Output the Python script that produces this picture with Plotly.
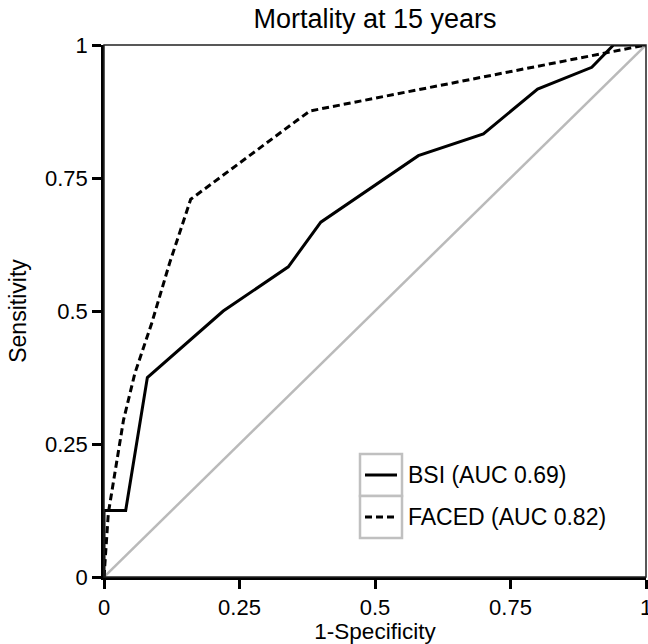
import plotly.graph_objects as go

# ---- data ----
bsi_fpr = [0, 0, 0.04, 0.08, 0.22, 0.34, 0.40, 0.58, 0.70, 0.80, 0.90, 0.94, 1.0]
bsi_tpr = [0, 0.125, 0.125, 0.375, 0.50, 0.583, 0.667, 0.792, 0.833, 0.917, 0.958, 1.0, 1.0]

faced_fpr = [0, 0.003, 0.008, 0.02, 0.036, 0.057, 0.088, 0.121, 0.16, 0.357, 0.38, 1.0]
faced_tpr = [0, 0.044, 0.12, 0.195, 0.295, 0.383, 0.477, 0.59, 0.71, 0.859, 0.876, 1.0]

ref_x = [0, 1]
ref_y = [0, 1]

tick_vals = [0, 0.25, 0.5, 0.75, 1]
tick_text = ["0", "0.25", "0.5", "0.75", "1"]

series_names = ["BSI (AUC 0.69)", "FACED (AUC 0.82)"]
title_text = "Mortality at 15 years"
x_title = "1-Specificity"
y_title = "Sensitivity"

# ---- layout geometry ----
W, H = 648, 644
ML, MR, MT, MB = 104, 2, 45, 67
PW = W - ML - MR
PH = H - MT - MB
FONT = "Liberation Sans, Arial, Helvetica, sans-serif"


def px2paper_x(px):
    return (px - ML) / PW


def px2paper_y(py):
    return (H - MB - py) / PH


fig = go.Figure()
fig.add_trace(go.Scatter(x=ref_x, y=ref_y, mode="lines",
                         line=dict(color="#bababa", width=2.5),
                         showlegend=False, hoverinfo="skip", cliponaxis=False))
fig.add_trace(go.Scatter(x=faced_fpr, y=faced_tpr, mode="lines", name=series_names[1],
                         line=dict(color="black", width=3, dash="7px,4px"),
                         showlegend=False, cliponaxis=False))
fig.add_trace(go.Scatter(x=bsi_fpr, y=bsi_tpr, mode="lines", name=series_names[0],
                         line=dict(color="black", width=3),
                         showlegend=False, cliponaxis=False))

shapes = []
# frame (top/right thin)
shapes.append(dict(type="rect", xref="paper", yref="paper", x0=0, x1=1, y0=0, y1=1,
                   line=dict(color="#222", width=1.5), layer="above"))

# manual legend
cells = [(454, 496), (496, 538)]
dashes = ["solid", "7px,4px"]
for (y0, y1), name, d in zip(cells, series_names, dashes):
    shapes.append(dict(type="rect", xref="paper", yref="paper",
                       x0=px2paper_x(360), x1=px2paper_x(402),
                       y0=px2paper_y(y1), y1=px2paper_y(y0),
                       line=dict(color="#c0c0c0", width=2.5), fillcolor="white"))
    yc = (y0 + y1) / 2
    shapes.append(dict(type="line", xref="paper", yref="paper",
                       x0=px2paper_x(365), x1=px2paper_x(397),
                       y0=px2paper_y(yc), y1=px2paper_y(yc),
                       line=dict(color="black", width=3, dash=d)))
annotations = []
for (y0, y1), name in zip(cells, series_names):
    yc = (y0 + y1) / 2
    annotations.append(dict(xref="paper", yref="paper", x=px2paper_x(406), y=px2paper_y(yc),
                            xanchor="left", yanchor="middle", showarrow=False,
                            text=name, font=dict(family=FONT, size=23, color="black")))

axis_common = dict(range=[0, 1], tickvals=tick_vals, ticktext=tick_text,
                   showgrid=False, zeroline=False, showline=True, linecolor="black",
                   linewidth=2.5, ticks="outside", ticklen=9, tickwidth=2.5,
                   tickcolor="black", tickfont=dict(family=FONT, size=22, color="black"),
                   layer="above traces", ticklabeloverflow="allow", automargin=False)

fig.update_layout(
    width=W, height=H,
    margin=dict(l=ML, r=MR, t=MT, b=MB),
    paper_bgcolor="white", plot_bgcolor="white",
    title=dict(text=title_text, x=0.5, xref="paper", xanchor="center",
               y=1 - 19 / H, yanchor="middle",
               font=dict(family=FONT, size=27, color="black")),
    xaxis=dict(**axis_common,
               title=dict(text=x_title, standoff=2,
                          font=dict(family=FONT, size=22.5, color="black"))),
    yaxis=dict(**axis_common,
               title=dict(text=y_title, standoff=12,
                          font=dict(family=FONT, size=23, color="black"))),
    shapes=shapes,
    annotations=annotations,
    showlegend=False,
)

fig.write_html("out.html", config={"displayModeBar": False},
               post_script="document.body.style.margin='0';")
